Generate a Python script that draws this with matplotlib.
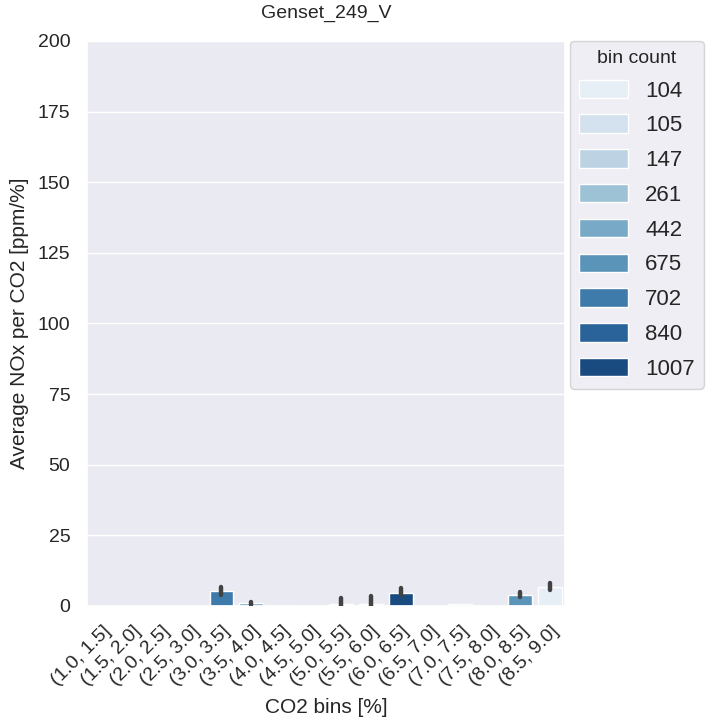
import numpy as np
import matplotlib
matplotlib.use("Agg")
import matplotlib.pyplot as plt
import seaborn as sns
from matplotlib.patches import Patch

sns.set_theme(style="darkgrid")
plt.rcParams['font.family'] = ['Liberation Sans', 'DejaVu Sans']

categories = ["(1.0, 1.5]", "(1.5, 2.0]", "(2.0, 2.5]", "(2.5, 3.0]", "(3.0, 3.5]",
              "(3.5, 4.0]", "(4.0, 4.5]", "(4.5, 5.0]", "(5.0, 5.5]", "(5.5, 6.0]",
              "(6.0, 6.5]", "(6.5, 7.0]", "(7.0, 7.5]", "(7.5, 8.0]", "(8.0, 8.5]",
              "(8.5, 9.0]"]
nan = np.nan
mean_vals = [nan, nan, nan, nan, 5.3, 0.9, 0.0, nan, 0.6, 0.8, 4.6, nan, 0.6, nan, 3.9, 6.6]
err_low = [nan, nan, nan, nan, 4.0, 0.2, nan, nan, 0.1, 0.1, 4.0, nan, nan, nan, 3.2, 5.7]
err_high = [nan, nan, nan, nan, 6.7, 1.4, nan, nan, 2.8, 3.5, 6.4, nan, nan, nan, 5.1, 8.0]
bin_counts = [None, None, None, None, 702, 442, 840, None, 105, 147, 1007, None, 261, None, 675, 104]

legend_counts = sorted(c for c in bin_counts if c is not None)
palette = [sns.desaturate(c, 0.75) for c in sns.color_palette("Blues", len(legend_counts))]
color_map = {c: palette[i] for i, c in enumerate(legend_counts)}

fig = plt.figure(figsize=(7.08, 7.18), dpi=100)
ax = fig.add_axes([0.123, 0.156, 0.675, 0.787])

x = np.arange(len(categories))
for i, (m, c) in enumerate(zip(mean_vals, bin_counts)):
    if c is None or np.isnan(m):
        continue
    ax.bar(x[i], m, width=0.8, color=color_map[c], edgecolor="white", linewidth=1.0, zorder=2)
for i, (lo, hi) in enumerate(zip(err_low, err_high)):
    if np.isnan(lo):
        continue
    ax.plot([x[i], x[i]], [lo, hi], color=".26", linewidth=3.2, solid_capstyle="round", zorder=3)

ax.set_xlim(-0.5, len(categories) - 0.5)
ax.set_ylim(0, 200)
ax.set_yticks(np.arange(0, 201, 25))
ax.set_xticks(x)
ax.grid(axis="x", visible=False)
ax.set_xticklabels(categories, rotation=45, ha="right", rotation_mode="anchor", fontsize=14)
ax.tick_params(axis="y", labelsize=14, pad=6)
ax.tick_params(axis="x", pad=6)
ax.set_xlabel("CO2 bins [%]", fontsize=15, labelpad=6)
ax.set_ylabel("Average NOx per CO2 [ppm/%]", fontsize=15, labelpad=6)
ax.set_title("Genset_249_V", fontsize=14, pad=17)

handles = [Patch(facecolor=color_map[c], edgecolor="white", label=str(c)) for c in legend_counts]
leg = ax.legend(handles=handles, title="bin count", loc="upper left", bbox_to_anchor=(1.01, 1.0),
                fontsize=16, title_fontsize=14, handlelength=2.2, handleheight=0.9,
                labelspacing=0.58, borderaxespad=0.0, frameon=True)

fig.savefig("out.png", dpi=100)
